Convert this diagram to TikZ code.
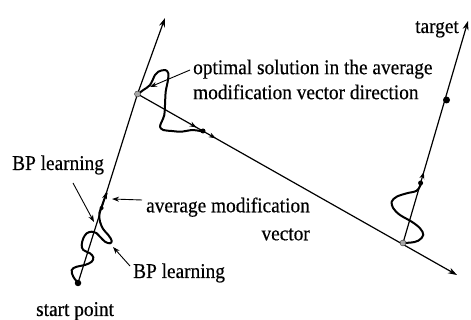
\documentclass[tikz,border=0pt]{standalone}
\usepackage{fontspec}
\setmainfont[FakeStretch=0.92,FakeBold=0.4]{Liberation Serif}
\usetikzlibrary{arrows.meta,decorations.markings}
\begin{document}
\begin{tikzpicture}[x=1pt,y=-1pt,
  mainline/.style={line width=1.2pt,-{Stealth[length=9pt,width=6pt]}},
  midtip/.tip={Stealth[length=7pt,width=5pt]},
  curve/.style={line width=2pt,line cap=round,line join=round},
  lblarrow/.style={line width=0.9pt,-{Stealth[length=7pt,width=5pt]}},
  lbl/.style={inner sep=0pt,font=\fontsize{21}{25}\selectfont},
  dotb/.style={circle,fill=black,inner sep=0pt,minimum size=#1},
  dotg/.style={circle,fill=gray!70,draw=gray!40!black,line width=0.4pt,inner sep=0pt,minimum size=#1}]
\useasboundingbox (0,0) rectangle (471,320);
% key points
\coordinate (start) at (78,283);
\coordinate (o1) at (137.5,94);
\coordinate (tip1) at (165,18);
\coordinate (tip2) at (457,275);
\coordinate (o2) at (403,243);
\coordinate (tip3) at (468,21);
% main lines
\draw[mainline,postaction={decorate},decoration={markings,mark=at position 0.342 with {\arrow{midtip}}}]
  (start) -- (o1) -- (tip1);
\draw[mainline,postaction={decorate},decoration={markings,
  mark=at position 0.185 with {\arrow{midtip}},
  mark=at position 0.245 with {\arrow{midtip}}}]
  (o1) -- (tip2);
\draw[mainline,postaction={decorate},decoration={markings,mark=at position 0.32 with {\arrow{midtip}}}]
  (o2) -- (tip3);
% BP learning trajectories
\draw[curve] plot[smooth,tension=0.6] coordinates {(78.3,283.3) (73.3,276.7) (71.7,270) (76.7,266.7) (85,265) (91.7,261.7) (93.3,257.3) (90,253.3) (83.3,250) (81.7,245) (83.3,238.3) (86.7,233.3) (91.7,231.7) (96.7,233.3) (100,236.7) (105,241.7) (110,243.3) (111.7,240.7) (108.3,235) (103.3,229.3) (100,221.7) (99.3,213.3) (101.7,206.7) (104,200) (106.7,193.3)};
\draw[curve] plot[smooth,tension=0.6] coordinates {(137.7,94.3) (143.3,90) (150,85) (155,75) (158.3,71.7) (165,70) (168.3,73.3) (167.7,81.7) (165.7,91.7) (165,105) (164.3,115) (161.7,121.7) (160,126.7) (163.3,130) (171.7,131) (181.7,131.7) (191.7,130) (200,131) (203.3,132)};
\draw[curve] plot[smooth,tension=0.6] coordinates {(403.3,242.7) (410,242.7) (418.3,240.7) (423.3,235) (420,228.3) (411.7,221.7) (400,215) (393.3,208.3) (391.7,201.7) (396.7,196.7) (406.7,193.3) (416.7,190.7) (421,184)};
% dots
\node[dotb=6.5pt] (dstart) at (start) {};
\node[dotg=6pt] (do1) at (o1) {};
\node[dotg=6pt] (do2) at (o2) {};
\node[dotb=5pt] (dmid2) at (203,131) {};
\node[dotb=5pt] (dmid3) at (420.6,183) {};
\node[dotb=7pt] (dtarget) at (446.5,100) {};
\node[dotb=4pt] (dmid1) at (101.6,208) {};
% labels
\node[lbl,anchor=base west] (ltarget) at (415,33) {target};
\node[lbl,anchor=west,align=left] (lopt) at (193,79.5) {optimal solution in the average\\modification vector direction};
\node[lbl,anchor=base west] (lbp1) at (12,170) {BP learning};
\node[lbl,anchor=east,align=right,font=\fontsize{21}{28}\selectfont] (lavg) at (310,219) {average modification\\vector};
\node[lbl,anchor=base west] (lbp2) at (133,278) {BP learning};
\node[lbl,anchor=base west] (lstart) at (36,316) {start point};
% label pointers
\coordinate (a1s) at (190,70);  \coordinate (a1e) at (150,87);
\coordinate (a2s) at (73,183);  \coordinate (a2e) at (94,222);
\coordinate (a3s) at (142,200); \coordinate (a3e) at (112,199);
\coordinate (a4s) at (130,266); \coordinate (a4e) at (113,247);
\draw[lblarrow] (a1s) -- (a1e);
\draw[lblarrow] (a2s) -- (a2e);
\draw[lblarrow] (a3s) -- (a3e);
\draw[lblarrow] (a4s) -- (a4e);
\end{tikzpicture}
\end{document}
